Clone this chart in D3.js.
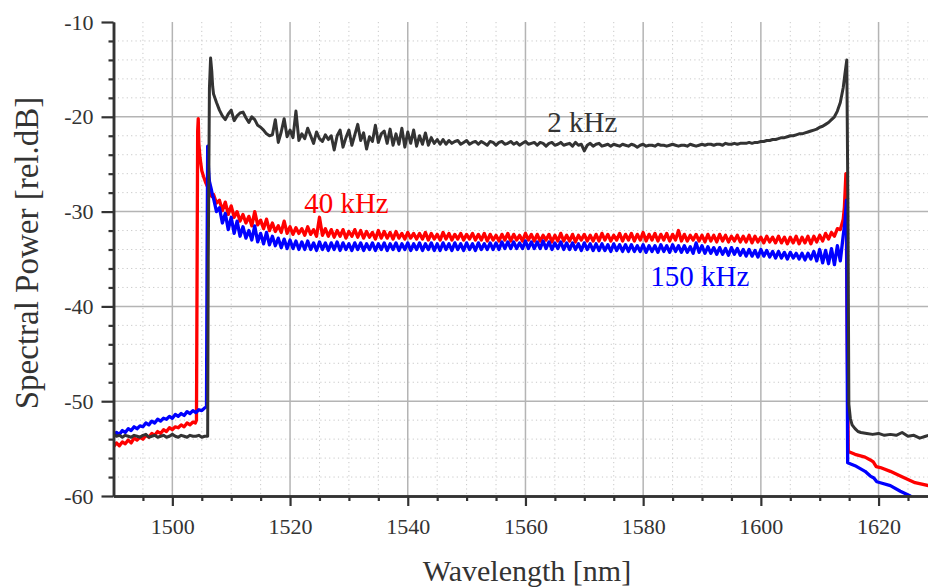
<!DOCTYPE html>
<html>
<head>
<meta charset="utf-8">
<script src="https://cdn.jsdelivr.net/npm/d3@7"></script>
<style>
  body { margin: 0; background: #fff; }
  text { font-family: "Liberation Serif", "Times New Roman", serif; }
</style>
</head>
<body>
<svg id="chart" width="928" height="587"></svg>
<script>
// tick values
var xMajor = [1500, 1520, 1540, 1560, 1580, 1600, 1620];
var xMinor = [1495, 1505, 1510, 1515, 1525, 1530, 1535, 1545, 1550, 1555, 1565, 1570, 1575, 1585, 1590, 1595, 1605, 1610, 1615, 1625];
var yMajor = [-60, -50, -40, -30, -20, -10];
var yMinor = [-58, -56, -54, -52, -48, -46, -44, -42, -38, -36, -34, -32, -28, -26, -24, -22, -18, -16, -14, -12];

// left tail, sampled 1490 .. 1503.5 every 0.5 nm
var blackLeft = [-53.5, -53.7, -53.6, -53.8, -53.6, -53.7, -53.8, -53.6, -53.7, -53.8, -53.6, -53.5, -53.8, -53.7,
                 -53.6, -53.8, -53.7, -53.6, -53.8, -53.7, -53.5, -53.7, -53.8, -53.6, -53.7, -53.8, -53.6, -53.7];
var redLeft = [-54.8, -54.4, -54.7, -54.3, -54.5, -54.1, -54.4, -53.9, -54.1, -53.8, -54.0, -53.6, -53.8, -53.4,
               -53.6, -53.2, -53.4, -53.0, -53.2, -52.8, -53.0, -52.7, -52.8, -52.5, -52.7, -52.3, -52.5, -52.2];
var blueLeft = [-53.7, -53.3, -53.5, -53.1, -53.3, -52.9, -53.1, -52.7, -52.9, -52.6, -52.7, -52.3, -52.5, -52.1,
                -52.3, -51.9, -52.1, -51.8, -51.9, -51.6, -51.8, -51.4, -51.6, -51.3, -51.5, -51.1, -51.3, -51.0];

// rising edge [wavelength, dB]
var blackRise = [[1504, -53.7], [1504.5, -53.6], [1505, -53.8], [1505.5, -53.7], [1506.0, -53.7], [1506.1, -35],
                 [1506.3, -17], [1506.5, -13.8], [1506.7, -15.2], [1506.85, -16.8]];
var redRise = [[1503.9, -52.3], [1504.1, -52.0], [1504.3, -21.5], [1504.4, -20.2], [1504.5, -22.8], [1504.7, -24.3],
               [1505.0, -25.7], [1505.3, -26.3], [1505.7, -27.0], [1506.0, -27.4], [1506.4, -28.1], [1506.7, -28.4]];
var blueRise = [[1504, -51.2], [1504.5, -50.9], [1505, -51.0], [1505.5, -50.7], [1505.8, -50.6], [1505.9, -35],
                [1506.0, -23.1], [1506.15, -25.5], [1506.3, -26.8], [1506.6, -27.6], [1506.8, -28.2]];

// plateau, sampled 1507 .. 1614 every 0.5 nm
var blackMid = [
  -17.6, -18.5, -19.3, -19.9, -20.3, -19.7, -19.3, -20.4, -19.9, -19.6,
  -19.5, -20.1, -20.6, -20.0, -20.3, -20.9, -21.1, -21.4, -21.8, -22.0,
  -21.9, -20.3, -22.7, -21.6, -20.2, -22.1, -21.4, -22.2, -19.4, -22.5,
  -21.8, -22.3, -21.2, -22.0, -22.8, -21.6, -22.3, -22.6, -21.9, -22.4,
  -22.0, -23.5, -22.0, -21.4, -23.2, -22.2, -21.4, -23.0, -21.9, -20.8,
  -22.5, -21.7, -23.4, -22.1, -22.6, -20.9, -22.7, -21.8, -21.5, -22.8,
  -21.3, -23.0, -21.8, -22.9, -21.2, -23.2, -21.6, -22.8, -21.4, -23.1,
  -22.0, -22.9, -21.7, -23.0, -22.2, -22.8, -22.4, -22.9, -22.4, -22.9,
  -22.5, -22.8, -22.6, -22.5, -22.9, -22.7, -22.5, -22.9, -22.7, -22.6,
  -22.9, -22.6, -22.8, -23.0, -22.6, -22.7, -23.0, -22.7, -22.6, -22.9,
  -22.8, -22.6, -22.9, -22.7, -23.0, -22.8, -22.6, -22.9, -22.8, -22.7,
  -23.0, -22.7, -22.8, -23.1, -22.8, -22.7, -23.0, -22.9, -22.7, -23.0,
  -22.9, -22.8, -23.1, -22.7, -23.0, -22.9, -23.6, -23.0, -22.8, -23.1,
  -22.9, -22.8, -23.1, -23.0, -22.9, -23.1, -22.9, -23.0, -23.1, -22.9,
  -23.0, -23.1, -22.9, -23.0, -23.2, -23.0, -22.9, -23.1, -23.0, -23.0,
  -23.1, -22.9, -23.0, -23.0, -23.1, -23.0, -22.9, -23.0, -23.1, -23.0,
  -23.0, -23.1, -22.9, -23.0, -23.1, -23.0, -22.9, -23.0, -22.9, -22.9,
  -23.0, -22.9, -22.9, -23.0, -22.8, -22.9, -22.9, -22.8, -22.9, -22.8,
  -22.8, -22.8, -22.7, -22.8, -22.7, -22.7, -22.6, -22.6, -22.5, -22.5,
  -22.4, -22.4, -22.3, -22.2, -22.2, -22.1, -22.0, -22.0, -21.9, -21.8,
  -21.8, -21.7, -21.6, -21.5, -21.4, -21.3, -21.1, -21.0, -20.8, -20.6,
  -20.3, -20.0, -19.4, -18.5, -16.9];
var redMid = [
  -28.2, -29.1, -28.8, -29.9, -29.0, -30.3, -29.4, -30.6, -30.0, -31.0,
  -30.3, -31.2, -30.5, -31.5, -30.0, -31.4, -30.9, -31.8, -30.8, -32.0,
  -31.2, -32.1, -31.5, -32.2, -31.0, -32.3, -31.6, -32.4, -31.7, -32.3,
  -31.8, -32.5, -31.6, -32.4, -31.9, -32.6, -30.6, -32.5, -31.8, -32.6,
  -31.9, -32.7, -32.0, -32.6, -31.9, -32.8, -32.1, -32.6, -31.9, -32.7,
  -32.0, -32.8, -32.1, -32.7, -32.2, -32.9, -32.0, -32.8, -32.1, -32.8,
  -32.2, -32.9, -32.1, -32.8, -32.3, -32.9, -32.2, -32.8, -32.3, -32.9,
  -32.3, -32.9, -32.2, -33.0, -32.3, -32.9, -32.4, -33.0, -32.2, -32.9,
  -32.3, -33.0, -32.4, -32.9, -32.3, -33.0, -32.4, -32.9, -32.3, -33.0,
  -32.4, -33.0, -32.3, -33.1, -32.4, -33.0, -32.5, -33.1, -32.4, -33.0,
  -32.3, -33.1, -32.4, -33.0, -32.5, -33.1, -32.3, -33.0, -32.4, -33.1,
  -32.4, -33.1, -32.5, -33.0, -32.4, -33.2, -32.5, -33.1, -32.3, -33.1,
  -32.5, -33.1, -32.4, -33.2, -32.5, -33.0, -32.4, -33.1, -32.5, -33.1,
  -32.4, -33.1, -32.3, -33.0, -32.4, -33.1, -32.5, -33.0, -32.3, -33.1,
  -32.4, -33.0, -32.3, -33.1, -32.4, -33.0, -32.2, -33.1, -32.4, -33.0,
  -32.3, -33.1, -32.4, -33.0, -32.3, -33.1, -32.4, -33.0, -32.0, -33.1,
  -32.4, -33.1, -32.5, -33.0, -32.4, -33.1, -32.5, -33.2, -32.4, -33.1,
  -32.5, -33.2, -32.4, -33.1, -32.5, -33.2, -32.6, -33.1, -32.5, -33.2,
  -32.6, -33.2, -32.5, -33.3, -32.6, -33.2, -32.7, -33.3, -32.6, -33.2,
  -32.7, -33.3, -32.6, -33.3, -32.7, -33.4, -32.7, -33.3, -32.6, -33.4,
  -32.7, -33.3, -32.6, -33.4, -32.6, -33.2, -32.5, -33.1, -32.3, -32.9,
  -32.2, -32.6, -31.8, -31.9, -30.8];
var blueMid = [
  -28.6, -30.0, -29.6, -31.2, -30.2, -31.9, -30.6, -32.3, -31.0, -32.6,
  -31.6, -32.8, -32.0, -33.0, -31.5, -33.2, -32.3, -33.4, -32.2, -33.5,
  -32.6, -33.6, -32.8, -33.8, -32.9, -33.9, -33.0, -33.9, -33.1, -34.0,
  -33.2, -34.0, -33.1, -34.0, -33.3, -34.1, -33.2, -34.0, -33.3, -34.1,
  -33.3, -34.0, -33.2, -34.1, -33.3, -34.0, -33.4, -34.1, -33.3, -34.0,
  -33.3, -34.1, -33.4, -34.0, -33.3, -34.1, -33.4, -34.0, -33.3, -34.1,
  -33.4, -34.0, -33.3, -34.1, -33.4, -34.0, -33.3, -34.1, -33.4, -34.0,
  -33.3, -34.1, -33.4, -34.0, -33.3, -34.1, -33.4, -34.1, -33.3, -34.0,
  -33.4, -34.1, -33.3, -34.0, -33.4, -34.1, -33.3, -34.0, -33.4, -34.1,
  -33.3, -34.0, -33.4, -34.0, -33.3, -34.0, -33.3, -34.0, -33.2, -33.9,
  -33.2, -33.9, -33.2, -33.9, -33.3, -33.9, -33.1, -33.9, -33.2, -33.9,
  -33.2, -33.9, -33.1, -33.9, -33.2, -34.0, -33.3, -33.9, -33.2, -34.0,
  -33.3, -34.0, -33.3, -34.0, -33.4, -34.1, -33.3, -34.0, -33.4, -34.1,
  -33.4, -34.1, -33.4, -34.1, -33.5, -34.2, -33.4, -34.1, -33.5, -34.2,
  -33.5, -34.2, -33.5, -34.2, -33.6, -34.2, -33.5, -34.3, -33.6, -34.2,
  -33.6, -34.3, -33.5, -34.2, -33.6, -34.3, -33.5, -34.2, -33.6, -34.3,
  -33.6, -34.3, -33.7, -34.4, -33.3, -34.3, -33.6, -34.4, -33.7, -34.4,
  -33.8, -34.5, -33.8, -34.5, -33.9, -34.6, -33.8, -34.5, -33.9, -34.6,
  -34.0, -34.7, -34.0, -34.7, -34.1, -34.8, -34.0, -34.7, -34.1, -34.8,
  -34.2, -34.9, -34.2, -34.9, -34.3, -35.0, -34.3, -34.9, -34.4, -35.0,
  -34.4, -35.1, -34.4, -35.0, -34.2, -35.2, -34.0, -35.4, -34.1, -35.5,
  -33.9, -35.6, -33.6, -35.2, -32.5];

// falling edge and right tail [wavelength, dB]
var blackFall = [[1614.3, -15.4], [1614.6, -14.0], [1614.8, -30], [1614.95, -50.3], [1615.2, -51.8], [1615.5, -52.5],
                 [1616, -52.9], [1616.5, -53.2], [1617, -53.3], [1618, -53.4], [1619, -53.5], [1620, -53.4], [1621, -53.6],
                 [1622, -53.5], [1623, -53.6], [1624, -53.3], [1625, -53.7], [1626, -53.6], [1627, -53.9], [1628, -53.7],
                 [1628.5, -53.6]];
var redFall = [[1614.2, -29.5], [1614.45, -26.0], [1614.85, -55.3], [1616, -55.6], [1617.7, -55.9], [1618.6, -56.2],
               [1619.1, -56.4], [1619.6, -56.9], [1620.3, -57.0], [1622, -57.4], [1623.7, -57.9], [1626.2, -58.6], [1628.5, -58.9]];
var blueFall = [[1614.3, -31.0], [1614.55, -28.8], [1614.75, -56.5], [1616, -56.8], [1617.7, -57.4], [1618.6, -57.9],
                [1619.2, -58.1], [1619.7, -58.5], [1620.3, -58.6], [1622, -58.9], [1623.7, -59.5], [1625.4, -60.0], [1626.5, -60.8]];

(function() {
    var leftGrid = d3.range(0, blackLeft.length).map(function(i) { return 1490 + i * 0.5; });
    var midGrid = d3.range(0, blackMid.length).map(function(i) { return 1507 + i * 0.5; });

    function build(left, rise, mid, fall) {
        var pts = leftGrid.map(function(w, i) { return [w, left[i]]; });
        pts = pts.concat(rise);
        pts = pts.concat(midGrid.map(function(w, i) { return [w, mid[i]]; }));
        return pts.concat(fall);
    }

    var series = [
        { name: '40 kHz', color: '#ff0000', width: 3.3, pts: build(redLeft, redRise, redMid, redFall) },
        { name: '150 kHz', color: '#0000ff', width: 3.3, pts: build(blueLeft, blueRise, blueMid, blueFall) },
        { name: '2 kHz', color: '#333333', width: 3, pts: build(blackLeft, blackRise, blackMid, blackFall) }
    ];

    var svg = d3.select('#chart');
    var pLeft = 113.5, pRight = 928, pTop = 22, pBottom = 496;
    var x = d3.scaleLinear().domain([1490, 1628.4]).range([pLeft, pRight]);
    var y = d3.scaleLinear().domain([-60, -10]).range([pBottom, pTop]);

    // grid
    var grid = svg.append('g');
    grid.selectAll('.vmin').data(xMinor).enter().append('line')
        .attr('x1', function(d) { return x(d); }).attr('x2', function(d) { return x(d); })
        .attr('y1', pTop).attr('y2', pBottom)
        .style('stroke', '#c8c8c8').style('stroke-width', 1).style('stroke-dasharray', '1.2,3.2');
    grid.selectAll('.hmin').data(yMinor).enter().append('line')
        .attr('y1', function(d) { return y(d); }).attr('y2', function(d) { return y(d); })
        .attr('x1', pLeft).attr('x2', pRight)
        .style('stroke', '#c8c8c8').style('stroke-width', 1).style('stroke-dasharray', '1.2,3.2');
    grid.selectAll('.vmaj').data(xMajor).enter().append('line')
        .attr('x1', function(d) { return x(d); }).attr('x2', function(d) { return x(d); })
        .attr('y1', pTop).attr('y2', pBottom)
        .style('stroke', '#b4b4b4').style('stroke-width', 1.5);
    grid.selectAll('.hmaj').data(yMajor.filter(function(d) { return d > -60 && d < -10; })).enter().append('line')
        .attr('y1', function(d) { return y(d); }).attr('y2', function(d) { return y(d); })
        .attr('x1', pLeft).attr('x2', pRight)
        .style('stroke', '#b4b4b4').style('stroke-width', 1.5);

    // curves
    svg.append('clipPath').attr('id', 'clip').append('rect')
        .attr('x', pLeft).attr('y', pTop).attr('width', pRight - pLeft).attr('height', pBottom - pTop);
    var line = d3.line().x(function(d) { return x(d[0]); }).y(function(d) { return y(d[1]); });
    svg.append('g').attr('clip-path', 'url(#clip)')
        .selectAll('path').data(series).enter().append('path')
        .attr('d', function(d) { return line(d.pts); })
        .style('fill', 'none')
        .style('stroke', function(d) { return d.color; })
        .style('stroke-width', function(d) { return d.width; })
        .style('stroke-linejoin', 'round');

    // axes
    function styleAxis(g) {
        g.selectAll('.domain').style('stroke', '#333').style('stroke-width', 2.5);
        g.selectAll('.tick line').style('stroke', '#333').style('stroke-width', 2.2);
        g.selectAll('.tick text').style('fill', '#333').style('font-size', '22px')
            .style('font-family', '"Liberation Serif", "Times New Roman", serif');
    }
    svg.append('g').attr('transform', 'translate(0,' + pBottom + ')')
        .call(d3.axisBottom(x).tickValues(xMinor).tickSize(5).tickFormat('').tickSizeOuter(0))
        .call(styleAxis);
    svg.append('g').attr('transform', 'translate(0,' + pBottom + ')')
        .call(d3.axisBottom(x).tickValues(xMajor).tickSize(10).tickPadding(12).tickFormat(d3.format('d')).tickSizeOuter(0))
        .call(styleAxis);
    svg.append('g').attr('transform', 'translate(' + pLeft + ',0)')
        .call(d3.axisLeft(y).tickValues(yMinor).tickSize(5).tickFormat('').tickSizeOuter(0))
        .call(styleAxis);
    svg.append('g').attr('transform', 'translate(' + pLeft + ',0)')
        .call(d3.axisLeft(y).tickValues(yMajor).tickSize(12).tickPadding(8)
            .tickFormat(function(d) { return '-' + Math.abs(d); }).tickSizeOuter(0))
        .call(styleAxis);

    // titles
    svg.append('text')
        .attr('x', 527).attr('y', 581)
        .attr('text-anchor', 'middle')
        .style('font-size', '30px').style('fill', '#333')
        .text('Wavelength [nm]');
    svg.append('text')
        .attr('transform', 'translate(38,253) rotate(-90)')
        .attr('text-anchor', 'middle')
        .style('font-size', '33px').style('fill', '#333')
        .text('Spectral Power [rel.dB]');

    // curve labels
    var labels = [
        { text: '2 kHz', wl: 1563.7, db: -21.6, color: '#333333' },
        { text: '40 kHz', wl: 1522.4, db: -30.2, color: '#ff0000' },
        { text: '150 kHz', wl: 1581.2, db: -37.8, color: '#0000ff' }
    ];
    svg.selectAll('.lbl').data(labels).enter().append('text')
        .attr('x', function(d) { return x(d.wl); })
        .attr('y', function(d) { return y(d.db); })
        .style('font-size', '29px')
        .style('fill', function(d) { return d.color; })
        .text(function(d) { return d.text; });
})();
</script>
</body>
</html>
